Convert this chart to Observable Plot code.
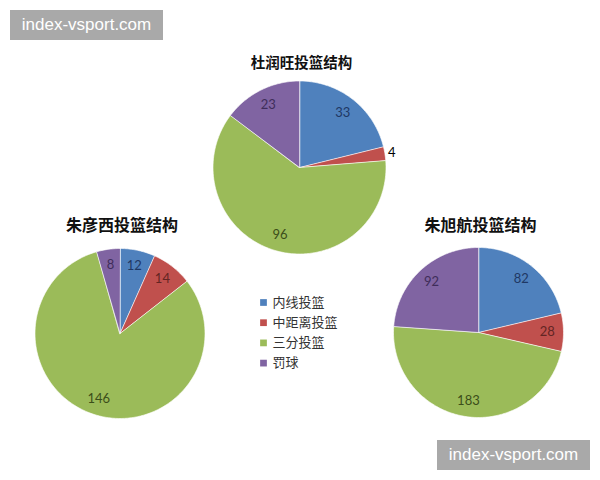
<!DOCTYPE html>
<html>
<head>
<meta charset="utf-8">
<script src="https://cdn.jsdelivr.net/npm/d3@7"></script>
<script src="https://cdn.jsdelivr.net/npm/@observablehq/plot@0.6"></script>
<style>
  html, body { margin: 0; padding: 0; background: #fff; }
  #wrap { position: relative; width: 600px; height: 480px; overflow: hidden; }
  .wm { position: absolute; background: #a9a9a9; color: #fff; font-family: "Liberation Sans", Arial, sans-serif; font-size: 17px; line-height: 30px; text-align: center; width: 153px; height: 30px; }
</style>
</head>
<body>
<div id="wrap">
  <div id="chart"></div>
  <div class="wm" style="left:10px; top:10px;">index-vsport.com</div>
  <div class="wm" style="left:437px; top:440px;">index-vsport.com</div>
</div>
<script>
// ---- data ----
const categories = ["内线投篮", "中距离投篮", "三分投篮", "罚球"];
const titles = ["杜润旺投篮结构", "朱彦西投篮结构", "朱旭航投篮结构"];
const duRunwang = [33, 4, 96, 23];
const zhuYanxi = [12, 14, 146, 8];
const zhuXuhang = [82, 28, 183, 92];
const series = [duRunwang, zhuYanxi, zhuXuhang];

// ---- styles / layout ----
const sliceColors = ["#4f81bd", "#c0504d", "#9bbb59", "#8064a2"];
const labelColors = ["#1f3864", "#632523", "#3b4e1a", "#3f2d5a"];
const layout = [
  {cx: 299, cy: 167, r: 86.5, ty: 63, tsize: 14.5},
  {cx: 119.5, cy: 333, r: 85, ty: 225, tsize: 16},
  {cx: 478, cy: 332, r: 85, ty: 225, tsize: 16}
];
const legend = {x: 263, y: 302, dy: 20.2};
const font = "Lato, 'Noto Sans CJK SC', sans-serif";

// ---- derived geometry ----
const polys = [];
const labels = [];
const titleRows = [];
series.forEach((vals, pi) => {
  const L = layout[pi];
  const total = d3.sum(vals);
  const arcs = d3.pie().sort(null).value(d => d)(vals);
  arcs.forEach((a, i) => {
    const id = pi + "-" + i;
    polys.push({id, cat: categories[i], x: L.cx, y: L.cy});
    const n = Math.max(2, Math.ceil((a.endAngle - a.startAngle) / (Math.PI / 180)));
    for (let k = 0; k <= n; k++) {
      const t = a.startAngle + (a.endAngle - a.startAngle) * k / n;
      polys.push({id, cat: categories[i], x: L.cx + L.r * Math.sin(t), y: L.cy - L.r * Math.cos(t)});
    }
    const mid = (a.startAngle + a.endAngle) / 2;
    const outside = vals[i] / total < 0.035;
    const rr = L.r * (outside ? 1.08 : 0.81);
    labels.push({
      text: String(vals[i]),
      x: L.cx + rr * Math.sin(mid),
      y: L.cy - rr * Math.cos(mid),
      color: outside ? "#000" : labelColors[i]
    });
  });
  titleRows.push({text: titles[pi], x: L.cx + 2, y: L.ty, size: L.tsize});
});
const legendRows = categories.map((c, i) => ({cat: c, x: legend.x, y: legend.y + i * legend.dy}));

const chart = Plot.plot({
  width: 600,
  height: 480,
  margin: 0,
  style: {fontFamily: font, background: "transparent"},
  x: {domain: [0, 600], range: [0, 600], axis: null},
  y: {domain: [0, 480], range: [0, 480], axis: null},
  color: {domain: categories, range: sliceColors},
  marks: [
    Plot.line(polys, {x: "x", y: "y", z: "id", fill: "cat", stroke: "#ffffff", strokeWidth: 0.8, strokeOpacity: 0.8, curve: "linear-closed"}),
    Plot.text(labels, {x: "x", y: "y", text: "text", fill: d => d.color, fontSize: 13, fontFamily: font}),
    ...titleRows.map(t => Plot.text([t], {x: "x", y: "y", text: "text", fill: "#111", fontSize: t.size, fontWeight: "bold", fontFamily: "'Noto Sans CJK SC', sans-serif"})),
    Plot.dot(legendRows, {x: "x", y: "y", fill: "cat", symbol: "square", r: 3.8}),
    Plot.text(legendRows, {x: d => d.x + 9, y: "y", text: "cat", textAnchor: "start", fill: "#333", fontSize: 13, fontFamily: "'Noto Sans CJK SC', sans-serif"})
  ]
});
document.getElementById("chart").appendChild(chart);
</script>
</body>
</html>
